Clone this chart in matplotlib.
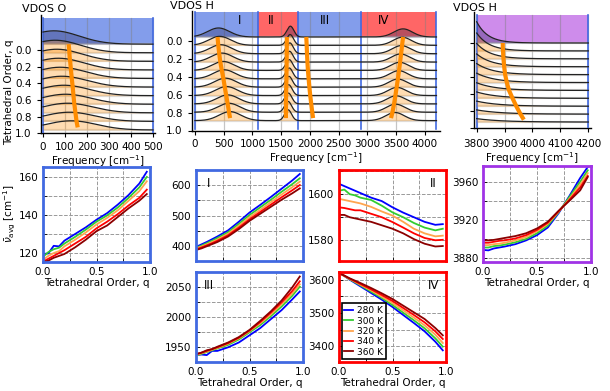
import numpy as np
import matplotlib
matplotlib.use('Agg')
import matplotlib.pyplot as plt

# ---------------- data ----------------
temps = ['280 K', '300 K', '320 K', '340 K', '360 K']
colors = ['#0000ff', '#32cd32', '#ffa54f', '#ff0000', '#8b0000']
q = [0, 0.05, 0.1, 0.15, 0.2, 0.3, 0.4, 0.5, 0.6, 0.7, 0.8, 0.9, 0.97]

nu_O = [
    [119.5, 119.8, 123.8, 123.5, 126.5, 130, 133.5, 137.5, 141, 145.5, 150.5, 156.5, 162.7],
    [118, 120.5, 122, 122.8, 125, 128.5, 132.3, 136.5, 139.8, 144, 149, 154.5, 160],
    [116.5, 118.5, 120, 121, 123.5, 127, 130.8, 135, 138.5, 142.5, 147.5, 152.5, 157.7],
    [115.5, 117, 118.5, 120, 121.5, 125, 128.5, 133, 136.5, 140.5, 145, 149, 153.3],
    [115.2, 116, 117.5, 118.5, 119.5, 123, 127, 131.5, 134.5, 139, 143.5, 147.5, 151],
]
nu_I = [
    [398, 406, 414, 423, 432, 452, 480, 510, 535, 561, 588, 615, 636],
    [395, 402, 410, 418, 427, 446, 473, 502, 527, 552, 578, 603, 622],
    [393, 399, 406, 414, 422, 441, 467, 495, 519, 544, 569, 593, 611],
    [390, 396, 403, 410, 418, 436, 461, 488, 512, 536, 560, 583, 600],
    [388, 393, 400, 407, 414, 432, 456, 483, 506, 529, 552, 573, 589],
]
nu_II = [
    [1604.5, 1603.5, 1602.5, 1601.5, 1600.5, 1598.5, 1597, 1594.3, 1592, 1590, 1588, 1586.7, 1587],
    [1601.5, 1602, 1600, 1599.5, 1598.5, 1597.5, 1595, 1592.1, 1590, 1587.5, 1585.5, 1584.3, 1585],
    [1598, 1597.5, 1597, 1596.5, 1596, 1594.5, 1592.5, 1590.7, 1588, 1585, 1583, 1581.7, 1582],
    [1594.3, 1594, 1593.5, 1593, 1593, 1591.5, 1590, 1587.9, 1585.5, 1583, 1581, 1580, 1580.2],
    [1591, 1591, 1590, 1589.5, 1589, 1588, 1586.5, 1585, 1583, 1580.5, 1578.5, 1577.3, 1577.5],
]
nu_III = [
    [1937, 1938, 1937, 1944, 1944, 1950, 1958, 1970, 1982, 1997, 2012, 2030, 2043],
    [1936, 1939, 1942, 1945, 1948, 1954, 1963, 1975, 1987, 2002, 2018, 2036, 2051],
    [1937, 1940, 1943, 1946, 1949, 1956, 1965, 1977, 1990, 2005, 2022, 2040, 2055],
    [1938, 1941, 1944, 1947, 1950, 1957, 1966, 1978, 1992, 2008, 2025, 2044, 2060],
    [1939, 1941, 1945, 1947, 1951, 1958, 1967, 1979, 1994, 2010, 2028, 2050, 2068],
]
nu_IV = [
    [3620, 3611, 3600, 3590, 3580, 3560, 3540, 3518, 3494, 3470, 3445, 3414, 3388],
    [3620, 3611, 3601, 3592, 3583, 3564, 3545, 3524, 3501, 3478, 3454, 3424, 3399],
    [3620, 3611, 3602, 3594, 3585, 3568, 3549, 3530, 3508, 3486, 3463, 3435, 3410],
    [3620, 3612, 3603, 3595, 3587, 3571, 3554, 3536, 3515, 3494, 3472, 3445, 3422],
    [3620, 3612, 3604, 3597, 3590, 3575, 3559, 3542, 3522, 3502, 3482, 3455, 3433],
]
nu_P = [
    [3888.5, 3888, 3890, 3891, 3892, 3894.5, 3898.5, 3904, 3912, 3927, 3945, 3964, 3975.5],
    [3891, 3891, 3892.5, 3893, 3894, 3896.5, 3900, 3906, 3914, 3928, 3944, 3960, 3972],
    [3893.5, 3893.5, 3894.5, 3895, 3896, 3898.5, 3902, 3908, 3916, 3928.5, 3942, 3957, 3969],
    [3896, 3896, 3897, 3898, 3898.5, 3900.5, 3904, 3909.5, 3917, 3929, 3941, 3954, 3966],
    [3898.5, 3898.5, 3899, 3900, 3901, 3903, 3906, 3911, 3918, 3929.5, 3940, 3951, 3965],
]

# spectra (waterfall) parameters, one value per q bin
q_bins = [0.0, 0.1, 0.2, 0.3, 0.4, 0.5, 0.6, 0.7, 0.8, 0.9, 1.0]
O_center = [50, 55, 62, 70, 78, 86, 95, 103, 112, 120, 128]
O_amp = [0.16, 0.15, 0.145, 0.14, 0.135, 0.13, 0.125, 0.12, 0.115, 0.11, 0.11]
O_sigma = 115
HI_center = [410, 430, 450, 470, 490, 510, 530, 550, 570, 590, 610]
HII_center = [1660, 1655, 1650, 1645, 1640, 1640, 1635, 1630, 1625, 1620, 1620]
HIV_center = [3620, 3605, 3590, 3575, 3560, 3545, 3530, 3515, 3500, 3490, 3480]
HI_sigma, HII_sigma, HIV_sigma = 190, 60, 160
HI_amp, HII_amp, HIV_amp = 0.1, 0.12, 0.09
R_h0 = [0.25, 0.21, 0.18, 0.15, 0.13, 0.11, 0.09, 0.075, 0.06, 0.05, 0.04]
R_decay = [40, 45, 50, 55, 60, 65, 70, 75, 80, 85, 90]

region_names = ['I', 'II', 'III', 'IV']
region_edges = [0, 1100, 1790, 2890, 4200]

# ---------------- figure ----------------
W, H = 610, 391
fig = plt.figure(figsize=(W / 100, H / 100), dpi=100)

TICK_FS = 7
LABEL_FS = 7.5


def rect(x0, y0, x1, y1):
    return [x0 / W, 1 - y1 / H, (x1 - x0) / W, (y1 - y0) / H]


BLUE_BAND = ('royalblue', 0.65)
RED_BAND = ('red', 0.6)
PURPLE_BAND = ('darkviolet', 0.45)


def top_panel(r, f, heights, xlim, ylim, off, scale, band_top, bands, blue_x,
              xticks, avg_series, qlabels=True, xpad=3):
    ax = fig.add_axes(r)
    ax.set_xlim(*xlim)
    ax.set_ylim(*ylim)
    for (x0, x1, col, a) in bands:
        ax.fill_between([x0, x1], band_top, off, color=col, alpha=a, lw=0, zorder=1)
    for xt in xticks:
        ax.plot([xt, xt], [band_top, ylim[0]], color='#808080', lw=0.9, alpha=0.45, zorder=2)
    for qb in q_bins:
        b = off + qb * scale
        ax.plot([f[0], f[-1]], [b, b], color='#c8c8c8', lw=1.6, alpha=0.6, zorder=2)
    for xb in blue_x:
        ax.plot([xb, xb], [band_top, ylim[0]], color='royalblue', lw=1.2, zorder=3)
    for i, (qb, h) in enumerate(zip(q_bins, heights)):
        b = off + qb * scale
        if i == 0:
            ax.fill_between(f, b, b - h, color='#1a1a50', alpha=0.3, lw=0, zorder=4)
        else:
            ax.fill_between(f, b, b - h, color='darkorange', alpha=0.3, lw=0, zorder=4)
        ax.plot(f, b - h, color='#222222', lw=0.9, zorder=5)
    for xs in avg_series:
        ax.plot(xs, [off + qq * scale for qq in q], color='darkorange', lw=3,
                zorder=6, solid_capstyle='butt')
    for s in ['top', 'right']:
        ax.spines[s].set_visible(False)
    for s in ['left', 'bottom']:
        ax.spines[s].set_color('black')
        ax.spines[s].set_linewidth(1.0)
    ax.set_xticks(xticks)
    ax.set_xticklabels([str(x) for x in xticks])
    ax.set_yticks([0, 0.2, 0.4, 0.6, 0.8, 1.0])
    if qlabels:
        ax.set_yticklabels(['0.0', '0.2', '0.4', '0.6', '0.8', '1.0'])
    else:
        ax.set_yticklabels([])
    ax.tick_params(labelsize=TICK_FS + 0.5, length=3, width=0.8)
    ax.tick_params(axis='x', pad=xpad)
    ax.set_xlabel('Frequency [cm$^{-1}$]', fontsize=LABEL_FS, labelpad=1)
    return ax


# --- top-left: VDOS O
fO = np.linspace(0, 500, 300)
hO = [a * np.exp(-(fO - c) ** 2 / (2 * O_sigma ** 2)) for c, a in zip(O_center, O_amp)]
top_panel(rect(40.8, 15.0, 155.2, 133.3), fO, hO, (-10, 510), (1.0, -0.42),
          -0.07, 1.03, -0.384, [(0, 500) + BLUE_BAND], [0, 500],
          [0, 100, 200, 300, 400, 500], [nu_O[2]], xpad=3)

# --- top-middle: VDOS H
fH = np.linspace(0, 4200, 900)
hH = [HI_amp * np.exp(-(fH - c1) ** 2 / (2 * HI_sigma ** 2))
      + HII_amp * np.exp(-(fH - c2) ** 2 / (2 * HII_sigma ** 2))
      + HIV_amp * np.exp(-(fH - c4) ** 2 / (2 * HIV_sigma ** 2))
      for c1, c2, c4 in zip(HI_center, HII_center, HIV_center)]
band_cols = [BLUE_BAND, RED_BAND, BLUE_BAND, RED_BAND]
bandsH = [(region_edges[i], region_edges[i + 1]) + band_cols[i] for i in range(4)]
axH = top_panel(rect(191.5, 10.9, 439.9, 130.5), fH, hH, (-60, 4260), (0.98, -0.33),
                -0.04, 0.93, -0.32, bandsH, region_edges,
                [0, 500, 1000, 1500, 2000, 2500, 3000, 3500, 4000],
                [nu_I[2], nu_II[2], nu_III[2], nu_IV[2]])
for name, xpos in zip(region_names, [770, 1320, 2260, 3280]):
    axH.text(xpos, -0.22, name, fontsize=8.5, ha='center', va='center', zorder=7)

# --- top-right: VDOS H (high-frequency tail)
fR = np.linspace(3800, 4200, 300)
hR = [h0 * np.exp(-(fR - 3800) / L) for h0, L in zip(R_h0, R_decay)]
top_panel(rect(473.9, 12.4, 591.1, 128.0), fR, hR, (3790, 4210), (1.0, -0.36),
          0.0, 0.93, -0.33, [(3800, 4200) + PURPLE_BAND], [3800, 4200],
          [3800, 3900, 4000, 4100, 4200], [nu_P[2]], qlabels=False, xpad=5)

fig.text(22 / W, 1 - 9 / H, 'VDOS O', fontsize=8, va='center')
fig.text(170 / W, 1 - 6 / H, 'VDOS H', fontsize=8, va='center')
fig.text(453 / W, 1 - 8 / H, 'VDOS H', fontsize=8, va='center')
fig.text(9 / W, 1 - 92 / H, 'Tetrahedral Order, q', fontsize=LABEL_FS, rotation=90,
         va='center', ha='center')


# ---------------- bottom panels ----------------
def bottom_panel(r, data, ylim, yticks, shown, spine_color, xlabels, label=None,
                 label_right=False, legend=False):
    ax = fig.add_axes(r)
    for vals, c, t in zip(data, colors, temps):
        ax.plot(q, vals, color=c, lw=1.3, label=t)
    ax.set_xlim(0, 1)
    ax.set_ylim(*ylim)
    ax.set_xticks([0, 0.25, 0.5, 0.75, 1.0])
    if xlabels:
        ax.set_xticklabels(['0.0', '', '0.5', '', '1.0'])
        ax.set_xlabel('Tetrahedral Order, q', fontsize=LABEL_FS, labelpad=1)
    else:
        ax.set_xticklabels([])
    ax.set_yticks(yticks)
    ax.set_yticklabels([str(t) if t in shown else '' for t in yticks])
    ax.grid(True, ls='--', color='#999999', lw=0.7)
    ax.set_axisbelow(True)
    ax.tick_params(labelsize=TICK_FS + 0.5, direction='in', length=3, width=0.6)
    for s in ax.spines.values():
        s.set_color(spine_color)
        s.set_linewidth(2)
    if label:
        if label_right:
            ax.text(0.88, 0.85, label, transform=ax.transAxes, fontsize=8.5,
                    ha='center', va='center')
        else:
            ax.text(0.12, 0.85, label, transform=ax.transAxes, fontsize=8.5,
                    ha='center', va='center')
    if legend:
        leg = ax.legend(loc='lower left', fontsize=6.5, handlelength=1.0,
                        labelspacing=0.15, borderpad=0.3, handletextpad=0.4,
                        borderaxespad=0.3, fancybox=False, framealpha=1)
        leg.get_frame().set_edgecolor('black')
        leg.get_frame().set_linewidth(1.2)
    return ax


ROYAL = '#4169e1'
axO = bottom_panel(rect(43, 167, 150, 262), nu_O, (115.3, 165.2),
                   [120, 130, 140, 150, 160], [120, 140, 160], ROYAL, True)
fig.text(10 / W, 1 - 213 / H, r'$\bar{\nu}_{\rm avg}$ [cm$^{-1}$]', fontsize=7.5,
         rotation=90, va='center', ha='center')

bottom_panel(rect(196, 170, 303, 261), nu_I, (352, 649),
             [400, 450, 500, 550, 600], [400, 500, 600], ROYAL, False, label='I')
bottom_panel(rect(339, 170, 446, 261), nu_II, (1571, 1610.5),
             [1580, 1590, 1600, 1610], [1580, 1600], 'red', False, label='II',
             label_right=True)
bottom_panel(rect(196, 272, 303, 362), nu_III, (1925.5, 2075.5),
             [1950, 1975, 2000, 2025, 2050, 2075], [1950, 2000, 2050], ROYAL, True,
             label='III')
bottom_panel(rect(339, 272, 446, 362), nu_IV, (3353, 3623),
             [3400, 3450, 3500, 3550, 3600], [3400, 3500, 3600], 'red', True,
             label='IV', label_right=True, legend=True)
bottom_panel(rect(483, 166, 591, 262), nu_P, (3875.8, 3976.5),
             [3880, 3900, 3920, 3940, 3960], [3880, 3920, 3960], '#a033e6', True)

fig.savefig('out.png', dpi=100)
